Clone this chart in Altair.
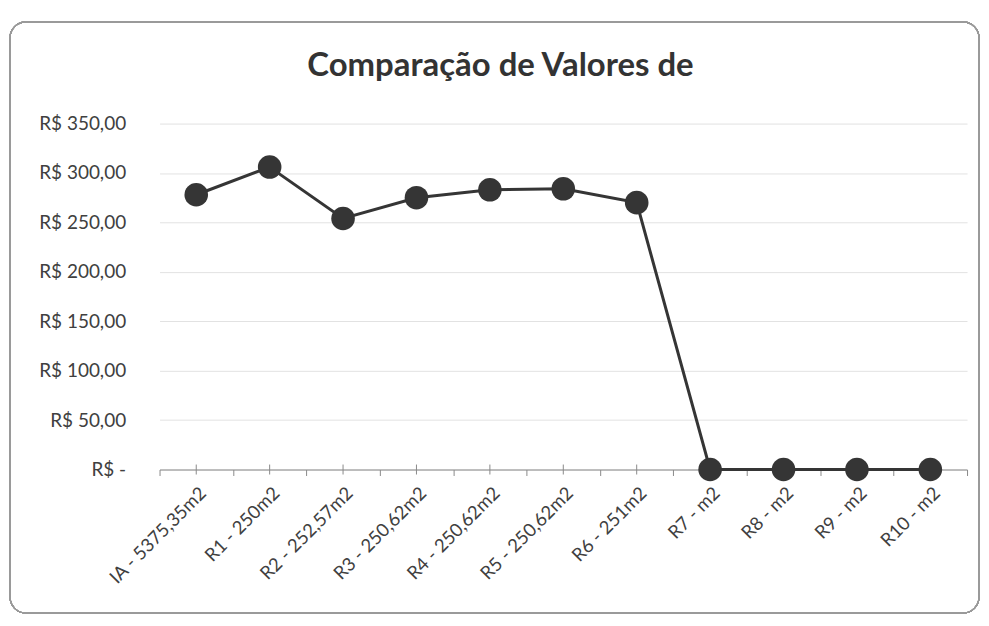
import altair as alt
import pandas as pd

categories = ["IA - 5375,35m2", "R1 - 250m2", "R2 - 252,57m2", "R3 - 250,62m2",
              "R4 - 250,62m2", "R5 - 250,62m2", "R6 - 251m2", "R7 - m2",
              "R8 - m2", "R9 - m2", "R10 - m2"]
values = [278, 306, 254, 275, 283, 284, 270, 0, 0, 0, 0]
y_ticks = [0, 50, 100, 150, 200, 250, 300, 350]
title_text = "Comparação de Valores de"

df = pd.DataFrame({"cat": categories, "val": values})
title_df = pd.DataFrame({"t": [title_text]})

W, H = 810, 347
FONT = "Lato"
DARK = "#353535"

x_enc = alt.X("cat:N", sort=None, title=None,
              scale=alt.Scale(paddingInner=0, paddingOuter=0),
              axis=alt.Axis(labelAngle=-45, labelAlign="right", labelBaseline="top",
                            labelFontSize=18.5, labelFont=FONT, labelColor="#404040",
                            labelPadding=8, tickBand="extent", tickSize=6,
                            tickColor="#8a8a8a", domainColor="#8a8a8a", grid=False,
                            labelOverlap=False, labelBound=False))
y_enc = alt.Y("val:Q", title=None,
              scale=alt.Scale(domain=[0, 350], nice=False, zero=True),
              axis=alt.Axis(values=y_ticks, domain=False, ticks=False, grid=True,
                            labelExpr="datum.value == 0 ? 'R$ -' : 'R$ ' + replace(format(datum.value, '.2f'), '.', ',')",
                            labelFontSize=19, labelFont=FONT, labelColor="#404040",
                            labelPadding=34, gridColor="#e2e2e2", gridWidth=1))

base = alt.Chart(df)

border = base.mark_rect(filled=False, stroke="#9a9a9a", strokeWidth=1.2,
                        cornerRadius=16, clip=False).encode(
    x=alt.value(-150), x2=alt.value(W + 12), y=alt.value(-102), y2=alt.value(H + 144))

title = alt.Chart(title_df).mark_text(font=FONT, fontSize=33, fontWeight="bold",
                                      color="#333333", align="center", baseline="alphabetic").encode(
    text="t:N", x=alt.value(342), y=alt.value(-48))

line = base.mark_line(color=DARK, strokeWidth=3).encode(x=x_enc, y=y_enc)

center_ticks = base.mark_rule(color="#8a8a8a", strokeWidth=1).encode(
    x=alt.X("cat:N", sort=None), y=alt.value(H - 5), y2=alt.value(H + 5))

points = base.mark_circle(color=DARK, opacity=1, size=560).encode(
    x=alt.X("cat:N", sort=None), y=alt.Y("val:Q"))

chart = alt.layer(line, border, title, center_ticks, points).properties(
    width=W, height=H,
    background="white",
    autosize=alt.AutoSizeParams(type="none"),
    padding={"left": 152, "top": 115, "right": 14, "bottom": 148},
).configure_view(stroke=None, strokeOpacity=0)

chart.save("out.html", embed_options={"renderer": "svg", "actions": False})
